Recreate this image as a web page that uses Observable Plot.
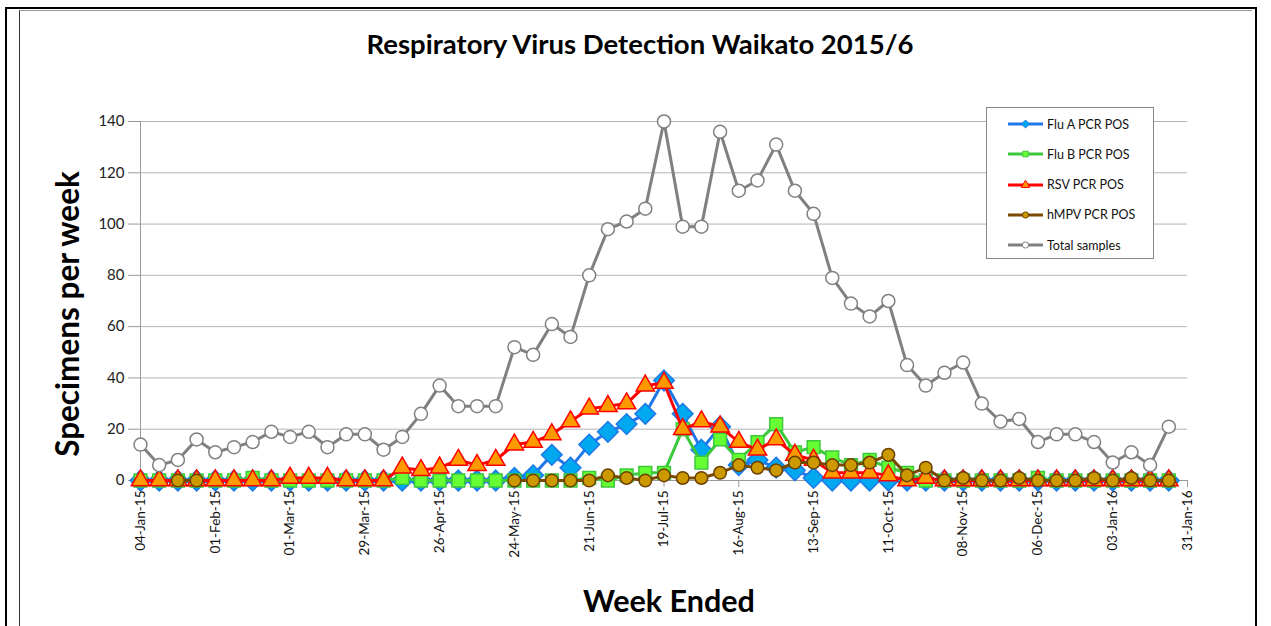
<!DOCTYPE html>
<html>
<head>
<meta charset="utf-8">
<script src="https://cdn.jsdelivr.net/npm/d3@7"></script>
<script src="https://cdn.jsdelivr.net/npm/@observablehq/plot@0.6"></script>
<style>
  html, body { margin: 0; padding: 0; background: #fff; }
  body { font-family: Lato, "Open Sans", "Noto Sans", sans-serif; }
  #wrap { position: relative; width: 1271px; height: 626px; overflow: hidden; background: #fff; }
  #chart { position: absolute; left: 0; top: 0; }
  .frame-outer { position: absolute; left: 5px; top: 7px; width: 1252px; height: 640px; border: 2px solid #000; box-sizing: border-box; }
  .frame-inner { position: absolute; left: 19px; top: 10px; width: 1233px; height: 640px; border-left: 1.5px solid #333; border-top: 1px solid #999; box-sizing: border-box; }
  #title { position: absolute; left: 0; width: 1280px; top: 43px; transform: translateY(-50%); text-align: center; font-weight: 700; font-size: 27.5px; color: #000; }
  #ytitle { position: absolute; left: 67px; top: 314px; transform: translate(-50%, -50%) rotate(-90deg); white-space: nowrap; font-weight: 700; font-size: 31.5px; color: #000; }
  #xtitle { position: absolute; left: 669px; top: 600px; transform: translate(-50%, -50%); white-space: nowrap; font-weight: 700; font-size: 30.5px; color: #000; }
  #legend { position: absolute; left: 986px; top: 107px; width: 168px; height: 152px; border: 1px solid #888; box-sizing: border-box; background: #fff; }
  .lg-row { position: absolute; left: 20px; height: 20px; display: flex; align-items: center; font-size: 12.5px; color: #111; white-space: nowrap; }
  .lg-row svg { margin-right: 3px; }
</style>
</head>
<body>
<div id="wrap">
  <div id="chart"></div>
  <div class="frame-outer"></div>
  <div class="frame-inner"></div>
  <div id="title">Respiratory Virus Detection Waikato 2015/6</div>
  <div id="ytitle">Specimens per week</div>
  <div id="xtitle">Week Ended</div>
  <div id="legend"></div>
</div>
<script>
// ---- Data ----
const firstWeekEnded = "04-Jan-15";
const lastWeekEnded = "24-Jan-16";
const tickLabels = ["04-Jan-15","01-Feb-15","01-Mar-15","29-Mar-15","26-Apr-15","24-May-15","21-Jun-15",
  "19-Jul-15","16-Aug-15","13-Sep-15","11-Oct-15","08-Nov-15","06-Dec-15","03-Jan-16","31-Jan-16"];
const yTicks = [0, 20, 40, 60, 80, 100, 120, 140];

const fluA = [0,0,0,0,0,0,0,0,0,0, 0,0,0,0,0,0,0,0,0,0,
  1,2,10,5,14,19,22,26,39,26, 12,21,6,8,5,4,1,0,0,0,
  0,0,0,0,0,0,0,0,0,0, 0,0,0,0,0,0];
const fluB = [0,0,0,0,0,0,1,0,0,0, 0,0,0,0,1,0,0,0,0,0,
  0,0,0,0,1,0,2,3,3,20, 7,16,8,15,22,11,13,9,6,8,
  5,3,0,0,0,0,0,0,1,0, 0,0,0,0,0,0];
const rsv = [0,0,0,0,0,0,0,0,1,1, 1,0,0,0,5,4,5,8,6,8,
  14,15,18,23,28,29,30,37,38,20, 23,21,15,12,16,10,8,3,3,3,
  2,0,1,0,0,0,0,0,0,0, 0,0,0,0,0,0];
const hmpv = [null,null,0,0,null,null,null,null,null,null, null,null,null,null,null,null,null,null,null,null,
  0,0,0,0,0,2,1,0,2,1, 1,3,6,5,4,7,7,6,6,7,
  10,2,5,0,1,0,0,1,0,0, 0,1,0,1,0,0];
const total = [14,6,8,16,11,13,15,19,17,19, 13,18,18,12,17,26,37,29,29,29,
  52,49,61,56,80,98,101,106,140,99, 99,136,113,117,131,113,104,79,69,64,
  70,45,37,42,46,30,23,24,15,18, 18,15,7,11,6,21];

const seriesNames = ["Flu A PCR POS", "Flu B PCR POS", "RSV PCR POS", "hMPV PCR POS", "Total samples"];

// ---- Build table ----
const parse = d3.utcParse("%d-%b-%y");
const fmt = d3.utcFormat("%d-%b-%y");
const weeks = d3.utcDay.range(parse(firstWeekEnded), d3.utcDay.offset(parse(lastWeekEnded), 1), 7);
const tickDates = tickLabels.map(parse);

const styles = {
  "Flu A PCR POS": {line: "#1f78e8", fill: "#00a8f0", stroke: "#1f78e8", symbol: "diamond2", r: 9.3, values: fluA},
  "Flu B PCR POS": {line: "#3cc83c", fill: "#66ff33", stroke: "#3cc83c", symbol: "square", r: 7.2, values: fluB},
  "RSV PCR POS":   {line: "#ff0000", fill: "#ff9900", stroke: "#ff0000", symbol: "triangle", r: 6.8, values: rsv},
  "hMPV PCR POS":  {line: "#7a4a00", fill: "#cc9900", stroke: "#6b4000", symbol: "circle", r: 6.3, values: hmpv},
  "Total samples": {line: "#808080", fill: "#ffffff", stroke: "#808080", symbol: "circle", r: 6.5, values: total}
};

const marks = [
  Plot.gridY(yTicks, {stroke: "#b4b4b4", strokeOpacity: 1, strokeWidth: 1}),
  Plot.ruleX([parse(firstWeekEnded)], {stroke: "#9a9a9a", strokeWidth: 1}),
  Plot.ruleY([0], {stroke: "#9a9a9a", strokeWidth: 1}),
  Plot.axisY(yTicks, {tickSize: 12, tickPadding: 4, stroke: "#9a9a9a", fill: "#222", fontSize: 15, label: null}),
  Plot.axisX(tickDates, {tickSize: 7, tickPadding: 3, tickRotate: -90, tickFormat: fmt, stroke: "#9a9a9a", fill: "#111", fontSize: 13.5, label: null})
];

for (const name of seriesNames) {
  const s = styles[name];
  const rows = weeks.map((w, i) => ({week: w, value: s.values[i]}));
  marks.push(Plot.line(rows, {x: "week", y: "value", stroke: s.line, strokeWidth: 3, curve: "linear", strokeLinejoin: "round"}));
  marks.push(Plot.dot(rows.filter(d => d.value != null), {x: "week", y: "value", symbol: s.symbol, r: s.r, fill: s.fill, stroke: s.stroke, strokeWidth: 1.5}));
}

const chart = Plot.plot({
  width: 1271,
  height: 626,
  marginLeft: 140,
  marginRight: 84,
  marginTop: 121,
  marginBottom: 146,
  style: {fontFamily: "Lato, 'Open Sans', sans-serif", background: "transparent", overflow: "visible"},
  x: {type: "utc", domain: [parse(firstWeekEnded), tickDates[tickDates.length - 1]]},
  y: {domain: [0, 140]},
  marks
});
document.getElementById("chart").appendChild(chart);

// ---- Legend ----
const legend = document.getElementById("legend");
const symPath = {
  "diamond2": d3.symbol(d3.symbolDiamond2, 40)(),
  "square": d3.symbol(d3.symbolSquare, 30)(),
  "triangle": d3.symbol(d3.symbolTriangle, 30)(),
  "circle": d3.symbol(d3.symbolCircle, 30)()
};
seriesNames.forEach((name, i) => {
  const s = styles[name];
  const row = document.createElement("div");
  row.className = "lg-row";
  row.style.top = (6 + i * 30.3) + "px";
  row.innerHTML = `<svg width="37" height="12"><line x1="1" x2="36" y1="6" y2="6" stroke="${s.line}" stroke-width="3"/>
    <path d="${symPath[s.symbol]}" transform="translate(18.5,6)" fill="${s.fill}" stroke="${s.stroke}" stroke-width="1"/></svg><span>${name}</span>`;
  legend.appendChild(row);
});
</script>
</body>
</html>
